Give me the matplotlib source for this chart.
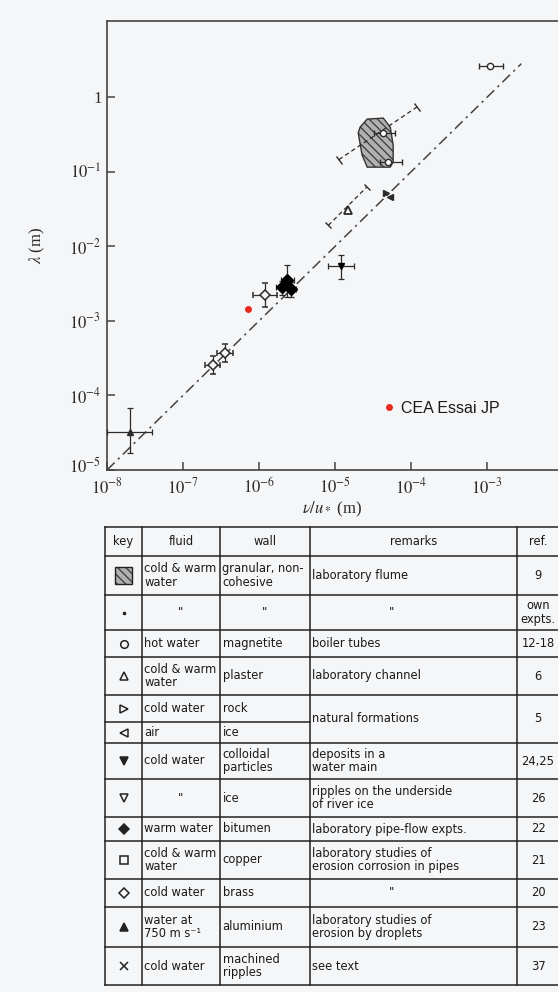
import numpy as np
import matplotlib
matplotlib.use('Agg')
import matplotlib.pyplot as plt
from matplotlib.patches import Polygon, Rectangle
from matplotlib.markers import MarkerStyle
from matplotlib.transforms import Affine2D, ScaledTranslation

plt.rcParams['mathtext.fontset'] = 'stix'
plt.rcParams['font.family'] = ['Liberation Serif', 'DejaVu Serif']
plt.rcParams['hatch.linewidth'] = 0.9

# ---------------- data ----------------
# reference line lambda = ratio * nu/u*
line_x = np.array([1e-8, 2.8e-3])
ratio = 1e3

# filled triangle (water at 750 m/s, aluminium)
alu_x, alu_y = [2.0e-8], [3.2e-5]
alu_xlo, alu_xhi = [1.0e-8], [3.9e-8]
alu_ylo, alu_yhi = [1.7e-5], [6.8e-5]

# open diamonds (cold water, brass)
brass_x = [2.45e-7, 3.55e-7, 1.2e-6]
brass_y = [2.57e-4, 3.7e-4, 2.24e-3]
brass_xlo = [1.92e-7, 2.8e-7, 0.83e-6]
brass_xhi = [3.1e-7, 4.5e-7, 1.7e-6]
brass_ylo = [1.95e-4, 2.8e-4, 1.55e-3]
brass_yhi = [3.4e-4, 4.9e-4, 3.2e-3]

# filled diamonds (warm water, bitumen)
bit_x = [2.0e-6, 2.35e-6, 2.6e-6]
bit_y = [2.8e-3, 3.55e-3, 2.7e-3]
bit_xlo = [1.65e-6, 1.95e-6, 2.15e-6]
bit_xhi = [2.4e-6, 2.85e-6, 3.1e-6]
bit_ylo = [2.2e-3, 2.1e-3, 2.1e-3]
bit_yhi = [3.4e-3, 5.6e-3, 3.3e-3]

# filled down triangle (colloidal particles)
coll_x, coll_y = [1.2e-5], [5.4e-3]
coll_xlo, coll_xhi = [8.1e-6], [1.78e-5]
coll_ylo, coll_yhi = [3.6e-3], [7.6e-3]

# open triangle (plaster) with diagonal dashed range
plas_x, plas_y = [1.48e-5], [3.1e-2]
plas_rng_x, plas_rng_y = [8.1e-6, 2.6e-5], [1.9e-2, 6.2e-2]

# natural formations: rock / ice
rock_x, rock_y = [4.6e-5], [5.1e-2]
ice_x, ice_y = [5.2e-5], [4.6e-2]

# laboratory flume region (hatched)
flume_x = [2.13e-5, 2.64e-5, 4.29e-5, 5.30e-5, 5.79e-5, 5.79e-5, 5.30e-5, 2.64e-5, 2.26e-5, 2.01e-5]
flume_y = [0.396, 0.507, 0.522, 0.396, 0.228, 0.135, 0.115, 0.115, 0.167, 0.329]

# open circles
circ_x = [4.2e-5, 5.0e-5, 1.1e-3]
circ_y = [0.33, 0.135, 2.6]
circ_xlo = [3.2e-5, 3.9e-5, 7.8e-4]
circ_xhi = [6.2e-5, 7.6e-5, 1.6e-3]
circ_rng_x, circ_rng_y = [1.12e-5, 1.2e-4], [0.145, 0.74]

# CEA test point
cea_x, cea_y = [7.2e-7], [1.45e-3]

y_ticks = [1e-5, 1e-4, 1e-3, 1e-2, 1e-1, 1]
y_labels = [r'$10^{-5}$', r'$10^{-4}$', r'$10^{-3}$', r'$10^{-2}$', r'$10^{-1}$', '1']
x_ticks = [1e-8, 1e-7, 1e-6, 1e-5, 1e-4, 1e-3]
x_labels = [r'$10^{-8}$', r'$10^{-7}$', r'$10^{-6}$', r'$10^{-5}$', r'$10^{-4}$', r'$10^{-3}$']

# ---------------- table contents ----------------
header = ['key', 'fluid', 'wall', 'remarks', 'ref.']
key_marker = ['hatch', '.', 'o', '^', '>', '<', 'v', 'v', 'D', 's', 'D', '^', 'x']
key_filled = [True, True, False, False, False, False, True, False, True, False, False, True, True]
fluid = ['cold & warm\nwater', '"', 'hot water', 'cold & warm\nwater', 'cold water', 'air',
         'cold water', '"', 'warm water', 'cold & warm\nwater', 'cold water',
         'water at\n750 m s⁻¹', 'cold water']
wall = ['granular, non-\ncohesive', '"', 'magnetite', 'plaster', 'rock', 'ice',
        'colloidal\nparticles', 'ice', 'bitumen', 'copper', 'brass', 'aluminium',
        'machined\nripples']
remarks = ['laboratory flume', '"', 'boiler tubes', 'laboratory channel', 'natural formations', None,
           'deposits in a\nwater main', 'ripples on the underside\nof river ice',
           'laboratory pipe-flow expts.', 'laboratory studies of\nerosion corrosion in pipes', '"',
           'laboratory studies of\nerosion by droplets', 'see text']
refs = ['9', 'own\nexpts.', '12-18', '6', '5', None, '24,25', '26', '22', '21', '20', '23', '37']

# ---------------- figure ----------------
W, H = 558, 992
fig = plt.figure(figsize=(W / 100, H / 100), dpi=100)
bg = '#f5f6f8'
fig.patch.set_facecolor(bg)

ax = fig.add_axes([107 / W, 1 - 470 / H, 1 - 107 / W, (470 - 21) / H])
ax.set_facecolor('none')
ax.set_xscale('log')
ax.set_yscale('log')
ax.set_xlim(1e-8, 10 ** -2.07)
ax.set_ylim(1e-5, 10 ** 1.02)

ink = '#2b2b2b'
for s in ['left', 'bottom', 'top']:
    ax.spines[s].set_color('#444444')
    ax.spines[s].set_linewidth(1.2)
ax.spines['right'].set_visible(False)
ax.minorticks_off()
ax.set_xticks(x_ticks)
ax.set_xticklabels(x_labels)
ax.set_yticks(y_ticks)
ax.set_yticklabels(y_labels)
ax.tick_params(direction='in', length=6, width=1.1, color='#444444', labelsize=12,
               labelcolor=ink, pad=4)
ax.tick_params(axis='x', pad=5)
# lift the corner label a little so it clears 10^-8
lbl = ax.get_yticklabels()[0]
lbl.set_transform(lbl.get_transform() + ScaledTranslation(0, 5 / 100, fig.dpi_scale_trans))
ax.set_xlabel(r'$\nu/u_*$ (m)', fontsize=12, color=ink, labelpad=2)
ax.set_ylabel(r'$\lambda$ (m)', fontsize=12, color=ink, labelpad=16)

# reference line
ax.plot(line_x, ratio * line_x, color='#444444', lw=1.1, dashes=(7, 3, 1.5, 3), zorder=2)

# flume region
pts = np.column_stack([flume_x, flume_y])
ax.add_patch(Polygon(pts, closed=True, facecolor='#b0b0b0', edgecolor='#3a3a3a',
                     hatch='\\\\\\\\', lw=0, zorder=3))
ax.add_patch(Polygon(pts, closed=True, facecolor='none', edgecolor='#333333', lw=1.0, zorder=3))


def asym(v, lo, hi):
    v, lo, hi = map(np.asarray, (v, lo, hi))
    return [v - lo, hi - v]


eb = dict(ecolor=ink, elinewidth=0.9, capsize=2.5, capthick=0.9, ls='none', zorder=4)

ax.errorbar(alu_x, alu_y, xerr=asym(alu_x, alu_xlo, alu_xhi), yerr=asym(alu_y, alu_ylo, alu_yhi),
            marker='^', ms=5, mfc=ink, mec=ink, **eb)
ax.errorbar(brass_x, brass_y, xerr=asym(brass_x, brass_xlo, brass_xhi),
            yerr=asym(brass_y, brass_ylo, brass_yhi),
            marker='D', ms=5.5, mfc=bg, mec=ink, mew=1.1, **eb)
ax.errorbar(bit_x, bit_y, xerr=asym(bit_x, bit_xlo, bit_xhi), yerr=asym(bit_y, bit_ylo, bit_yhi),
            marker='D', ms=6, mfc='black', mec='black', **eb)
ax.errorbar(coll_x, coll_y, xerr=asym(coll_x, coll_xlo, coll_xhi),
            yerr=asym(coll_y, coll_ylo, coll_yhi),
            marker='v', ms=5, mfc='black', mec='black', **eb)
ax.errorbar(circ_x, circ_y, xerr=asym(circ_x, circ_xlo, circ_xhi),
            marker='o', ms=4.5, mfc='white', mec=ink, mew=1.0, **eb)


def diag_range(xs, ys):
    ax.plot(xs, ys, color=ink, lw=0.9, ls=(0, (3.5, 2.5)), zorder=4)
    p = ax.transData.transform(np.column_stack([xs, ys]))
    ang = np.degrees(np.arctan2(p[1, 1] - p[0, 1], p[1, 0] - p[0, 0]))
    cap = MarkerStyle('_', transform=Affine2D().rotate_deg(ang + 90))
    ax.plot(xs, ys, ls='none', marker=cap, ms=7, mew=1.0, mec=ink, zorder=4)


diag_range(plas_rng_x, plas_rng_y)
diag_range(circ_rng_x, circ_rng_y)

ax.plot(plas_x, plas_y, ls='none', marker='^', ms=6, mfc=bg, mec=ink, mew=1.3, zorder=5)
ax.plot(rock_x, rock_y, ls='none', marker='>', ms=5, mfc=ink, mec=ink, zorder=5)
ax.plot(ice_x, ice_y, ls='none', marker='<', ms=5, mfc=ink, mec=ink, zorder=5)

ax.plot(cea_x, cea_y, ls='none', marker='o', ms=5, color='#e8291c', mec='none', zorder=6,
        label='CEA Essai JP')
leg = ax.legend(loc='center left', bbox_to_anchor=(0.614, 0.138), frameon=False,
                handlelength=0.6, handletextpad=0.5, borderpad=0, borderaxespad=0,
                prop={'family': 'Liberation Sans', 'size': 11.5})
for t in leg.get_texts():
    t.set_color('#1a1a1a')

# ---------------- table ----------------
tax = fig.add_axes([0, 0, 1, 1], zorder=5)
tax.set_xlim(0, W)
tax.set_ylim(H, 0)
tax.axis('off')

row_edges = [527, 556, 595, 630, 657, 695, 722, 743, 779, 817, 841, 879, 907, 947, 985]
col_edges = [105, 142, 220, 310, 517, 560]
lc = '#222222'
lw = 1.1
tfont = dict(family='DejaVu Sans', size=8.3, color='#1a1a1a')

for c in col_edges[:-1]:
    tax.plot([c, c], [row_edges[0], row_edges[-1]], color=lc, lw=lw)
for i, r in enumerate(row_edges):
    # rock / ice share the remarks and ref cells
    right = col_edges[3] if i == 6 else col_edges[-1]
    tax.plot([col_edges[0], right], [r, r], color=lc, lw=lw)

hy = (row_edges[0] + row_edges[1]) / 2
for j, h in enumerate(header):
    cx = 538 if j == 4 else (col_edges[j] + col_edges[j + 1]) / 2
    tax.text(cx, hy, h, ha='center', va='center', **tfont)

kx = (col_edges[0] + col_edges[1]) / 2
for i in range(len(fluid)):
    y0, y1 = row_edges[i + 1], row_edges[i + 2]
    ym = (y0 + y1) / 2
    m = key_marker[i]
    if m == 'hatch':
        tax.add_patch(Rectangle((kx - 8.5, ym - 8.5), 17, 17, facecolor='#b0b0b0',
                                edgecolor='#3a3a3a', hatch='\\\\\\\\', lw=0))
        tax.add_patch(Rectangle((kx - 8.5, ym - 8.5), 17, 17, facecolor='none',
                                edgecolor=lc, lw=1.0))
    else:
        ms = {'.': 3, 'x': 6}.get(m, 5.5)
        tax.plot([kx], [ym], ls='none', marker=m, ms=ms, mew=1.1,
                 mfc=lc if key_filled[i] else 'none', mec=lc)
    for col, vals in ((1, fluid), (2, wall), (3, remarks)):
        v = vals[i]
        if v is None:
            continue
        yy = ym
        if col == 3 and i == 4:
            yy = (row_edges[5] + row_edges[7]) / 2
        if v == '"':
            tax.text((col_edges[col] + col_edges[col + 1]) / 2 - (22 if col == 3 else 0), yy, v,
                     ha='center', va='center', **tfont)
        else:
            tax.text(col_edges[col] + 2.5, yy, v, ha='left', va='center', linespacing=1.05, **tfont)
    if refs[i] is not None:
        yy = (row_edges[5] + row_edges[7]) / 2 if i == 4 else ym
        tax.text(538, yy, refs[i], ha='center', va='center', linespacing=1.05, **tfont)

fig.savefig('out.png', dpi=100, facecolor=fig.get_facecolor())
